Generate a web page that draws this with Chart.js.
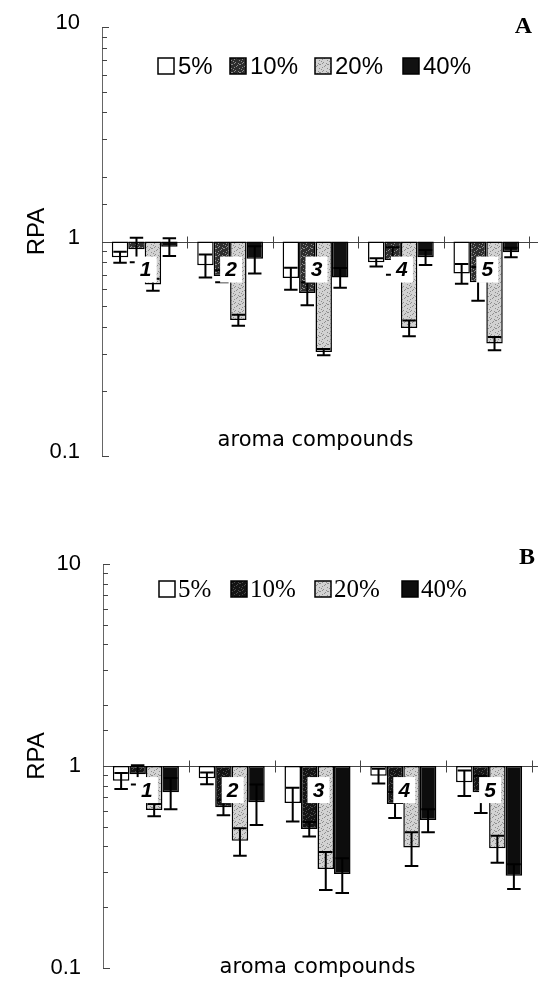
<!DOCTYPE html>
<html>
<head>
<meta charset="utf-8">
<script src="https://cdn.jsdelivr.net/npm/chart.js@4.4.1/dist/chart.umd.min.js"></script>
<style>
  body { margin: 0; background: #fff; }
  canvas { display: block; }
</style>
</head>
<body>
<canvas id="chartA" width="538" height="495"></canvas>
<canvas id="chartB" width="538" height="495"></canvas>
<script>
// Data
const categories = ['1', '2', '3', '4', '5'];
const seriesLabels = ['5%', '10%', '20%', '40%'];
const yTicks = [0.1, 1, 10];
const yTickLabels = ['0.1', '1', '10'];

// Panel A means and SDs
const a5 = [0.845, 0.775, 0.675, 0.80, 0.71];
const a10 = [0.92, 0.69, 0.575, 0.82, 0.645];
const a20 = [0.63, 0.43, 0.305, 0.395, 0.335];
const a40 = [0.945, 0.83, 0.68, 0.845, 0.89];
const a5err = [0.05, 0.095, 0.08, 0.036, 0.075];
const a10err = [0.12, 0.045, 0.07, 0.12, 0.115];
const a20err = [0.04, 0.025, 0.01, 0.033, 0.024];
const a40err = [0.09, 0.12, 0.072, 0.068, 0.045];

// Panel B means and SDs
const b5 = [0.846, 0.87, 0.656, 0.895, 0.83];
const b10 = [0.91, 0.625, 0.488, 0.648, 0.741];
const b20 = [0.606, 0.426, 0.309, 0.395, 0.392];
const b40 = [0.741, 0.661, 0.292, 0.54, 0.286];
const b5err = [0.077, 0.058, 0.125, 0.075, 0.12];
const b10err = [0.1, 0.055, 0.04, 0.095, 0.155];
const b20err = [0.042, 0.066, 0.066, 0.075, 0.06];
const b40err = [0.13, 0.15, 0.057, 0.07, 0.04];

// stippled fills like the scanned print (fixed speckle layout)
const speckle = [[0, 0], [5, 1], [2, 3], [7, 4], [3, 6], [6, 7], [1, 5], [4, 2], [7, 0], [2, 7]];
function makePattern(base, dot) {
  const c = document.createElement('canvas');
  c.width = 8; c.height = 8;
  const g = c.getContext('2d');
  g.fillStyle = base; g.fillRect(0, 0, 8, 8);
  g.fillStyle = dot;
  speckle.forEach(([px, py]) => g.fillRect(px, py, 1, 1));
  return g.createPattern(c, 'repeat');
}
const lightGray = makePattern('#d2d2d2', '#8e8e8e');
const darkGrayA = makePattern('#2e2e2e', '#8a8a8a');
const darkGrayB = makePattern('#141414', '#4a4a4a');

const sansFont = '"Liberation Sans", Arial, sans-serif';

function isDecade(v) {
  const l = Math.log10(v);
  return Math.abs(l - Math.round(l)) < 1e-6;
}

function panelPlugin(p) {
  return {
    id: 'panel' + p.letter,
    beforeDatasetsDraw(chart) {
      const { ctx, chartArea, scales: { x, y } } = chart;
      const y1 = Math.round(y.getPixelForValue(1)) + 0.5;
      ctx.save();
      ctx.strokeStyle = '#444';
      ctx.lineWidth = 1;
      ctx.beginPath();
      ctx.moveTo(chartArea.left, y1);
      ctx.lineTo(chart.width, y1);
      // category boundaries on the line at 1
      for (let i = 1; i <= categories.length; i++) {
        const bx = Math.round(x.getPixelForValue(i - 0.5)) + 0.5;
        ctx.moveTo(bx, y1 - 6);
        ctx.lineTo(bx, y1 + 6);
      }
      // inside ticks of the log axis
      y.ticks.forEach(t => {
        const ty = Math.round(y.getPixelForValue(t.value)) + 0.5;
        ctx.moveTo(chartArea.left, ty);
        ctx.lineTo(chartArea.left + (isDecade(t.value) ? 7 : 5), ty);
      });
      ctx.stroke();
      ctx.restore();
    },
    afterDatasetsDraw(chart) {
      const { ctx, scales: { x, y } } = chart;
      ctx.save();
      // error bars
      ctx.strokeStyle = '#000';
      ctx.lineWidth = 2;
      chart.data.datasets.forEach((ds, di) => {
        chart.getDatasetMeta(di).data.forEach((bar, i) => {
          const v = ds.data[i], e = p.errors[di][i];
          const top = y.getPixelForValue(v + e);
          const bot = y.getPixelForValue(v - e);
          const half = bar.width / 2 - 1.5;
          ctx.beginPath();
          ctx.moveTo(bar.x, top); ctx.lineTo(bar.x, bot);
          ctx.moveTo(bar.x - half, top); ctx.lineTo(bar.x + half, top);
          ctx.moveTo(bar.x - half, bot); ctx.lineTo(bar.x + half, bot);
          ctx.stroke();
        });
      });

      // compound numbers in white boxes
      ctx.font = 'italic bold 21px ' + sansFont;
      ctx.textAlign = 'center';
      ctx.textBaseline = 'middle';
      categories.forEach((c, i) => {
        const cx = x.getPixelForValue(i) + 1;
        const cy = y.getPixelForValue(p.labelAt);
        ctx.fillStyle = '#fff';
        ctx.fillRect(cx - 11, cy - 13, 22, 26);
        ctx.fillStyle = '#000';
        ctx.fillText(c, cx, cy + 1);
      });

      // legend
      ctx.font = p.legendFont;
      ctx.textAlign = 'left';
      chart.data.datasets.forEach((ds, di) => {
        const lx = p.legendX[di];
        ctx.fillStyle = ds.backgroundColor;
        ctx.fillRect(lx, p.legendY - 8, 16, 16);
        ctx.lineWidth = 1.5;
        ctx.strokeStyle = '#000';
        ctx.strokeRect(lx, p.legendY - 8, 16, 16);
        ctx.fillStyle = '#000';
        ctx.fillText(ds.label, lx + p.legendGap, p.legendY + 1);
      });

      // panel letter
      ctx.font = 'bold 24px "Liberation Serif", "Times New Roman", serif';
      ctx.textAlign = 'right';
      ctx.fillText(p.letter, p.letterX, p.letterY);
      ctx.restore();
    }
  };
}

function buildChart(id, values, p) {
  return new Chart(document.getElementById(id), {
    type: 'bar',
    data: {
      labels: categories,
      datasets: seriesLabels.map((label, i) => ({
        label,
        data: values[i],
        base: 1,
        backgroundColor: p.fills[i],
        borderColor: '#000',
        borderWidth: 1.5,
        borderSkipped: false,
        categoryPercentage: 0.77,
        barPercentage: 1.0
      }))
    },
    options: {
      responsive: false,
      animation: false,
      events: [],
      layout: { padding: p.padding },
      plugins: { legend: { display: false }, tooltip: { enabled: false } },
      scales: {
        x: {
          grid: { display: false, drawTicks: false },
          border: { display: false },
          ticks: { display: false },
          title: {
            display: true,
            text: 'aroma compounds',
            color: '#000',
            font: { family: '"DejaVu Sans", sans-serif', size: 21 },
            padding: { top: 0, bottom: p.xTitlePad }
          },
          afterFit(s) { s.height = p.xHeight; }
        },
        y: {
          type: 'logarithmic',
          min: 0.1,
          max: 10,
          // hidden tick marks only keep the labels 22px off the axis
          grid: { display: false, drawTicks: true, tickLength: 22 },
          border: { display: true, color: '#666', width: 1 },
          ticks: {
            autoSkip: false,
            padding: 0,
            labelOffset: p.labelOffset,
            color: '#000',
            font: { family: sansFont, size: 22 },
            callback: v => {
              const k = yTicks.findIndex(t => Math.abs(Math.log10(v / t)) < 1e-6);
              return k < 0 ? '' : yTickLabels[k];
            }
          },
          title: {
            display: true,
            text: '   RPA',
            color: '#000',
            font: { family: sansFont, size: 24 },
            padding: { top: 23, bottom: 0 }
          },
          afterFit(s) { s.width = p.yWidth; }
        }
      }
    },
    plugins: [panelPlugin(p)]
  });
}

buildChart('chartA', [a5, a10, a20, a40], {
  letter: 'A',
  errors: [a5err, a10err, a20err, a40err],
  fills: ['#fff', darkGrayA, lightGray, '#111'],
  padding: { top: 27, right: 9, bottom: 0, left: 0 },
  yWidth: 102, xHeight: 39, xTitlePad: 42, labelOffset: -4,
  labelAt: 0.74,
  legendX: [158, 230, 315, 403], legendY: 66, legendGap: 20,
  legendFont: '24px ' + sansFont,
  letterX: 532, letterY: 27
});

buildChart('chartB', [b5, b10, b20, b40], {
  letter: 'B',
  errors: [b5err, b10err, b20err, b40err],
  fills: ['#fff', darkGrayB, lightGray, '#0d0d0d'],
  padding: { top: 69, right: 6, bottom: 0, left: 0 },
  yWidth: 103, xHeight: 22, xTitlePad: 10, labelOffset: 0,
  labelAt: 0.76,
  legendX: [159, 231, 315, 402], legendY: 94, legendGap: 19,
  legendFont: '25px "Liberation Serif", "Times New Roman", serif',
  letterX: 535, letterY: 63
});
</script>
</body>
</html>
